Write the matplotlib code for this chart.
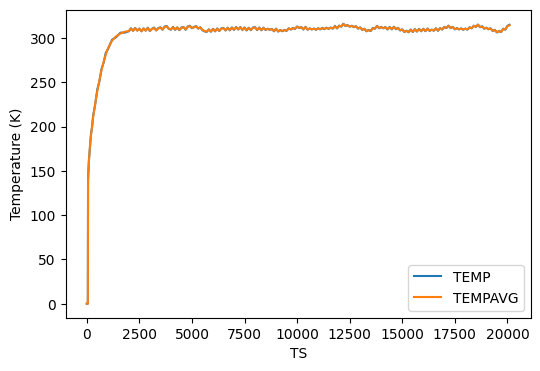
import numpy as np
import matplotlib
matplotlib.use("Agg")
import matplotlib.pyplot as plt

# Early ramp (irregular TS sampling)
TS_RAMP = [0, 50, 60, 100, 150, 200, 250, 300, 400, 500, 600, 700, 800, 900,
           1000, 1200, 1400, 1600, 1800]
TEMP_RAMP = [0, 0, 140, 162, 176, 192, 199, 212, 225, 242, 251, 265, 272, 283,
             287, 298, 301, 306, 306]
TEMPAVG_RAMP = [0, 0, 140, 160, 178, 190, 200, 210, 226, 240, 252, 264, 273, 281,
                288, 297, 302, 305, 307]

# Plateau, TS = 2000 .. 20100 every 100 (rows of 1000 TS)
TEMPAVG_PLATEAU = [
    307.8, 310.6, 308.1, 311.0, 308.3, 310.4, 307.7, 310.7, 308.4, 311.2,
    308.1, 310.2, 311.3, 308.6, 310.8, 311.7, 309.5, 312.5, 313.1, 310.5,
    309.8, 312.1, 309.6, 311.8, 309.2, 311.4, 312.2, 309.7, 312.6, 313.3,
    311.4, 312.0, 313.1, 310.9, 311.7, 309.1, 307.9, 307.2, 309.4, 307.4,
    310.0, 307.8, 310.3, 308.2, 310.5, 311.0, 308.8, 311.3, 309.0, 311.6,
    309.5, 312.0, 309.9, 311.9, 309.4, 311.5, 308.9, 311.2, 309.2, 311.4,
    311.8, 309.3, 311.5, 309.0, 311.3, 309.4, 310.1, 309.6, 309.9, 307.9,
    310.2, 307.6, 308.6, 308.0, 308.7, 308.4, 310.5, 309.9, 310.8, 310.6,
    312.6, 311.6, 311.9, 309.9, 312.2, 309.7, 310.5, 310.0, 310.3, 309.6,
    310.6, 310.1, 310.9, 310.4, 311.2, 310.7, 311.4, 310.9, 313.2, 311.1,
    313.6, 313.1, 315.7, 313.9, 314.1, 313.2, 313.4, 312.6, 312.9, 310.9,
    311.6, 309.5, 310.1, 307.9, 308.7, 308.2, 310.9, 310.8, 313.3, 311.4,
    312.0, 311.3, 311.9, 309.9, 312.1, 310.1, 312.4, 310.3, 311.1, 308.8,
    309.4, 307.1, 307.9, 306.8, 309.2, 307.1, 309.6, 307.6, 309.9, 307.9,
    310.1, 308.0, 310.3, 308.3, 309.1, 308.6, 310.6, 308.5, 310.8, 309.9,
    312.1, 311.6, 313.6, 311.5, 312.2, 310.1, 310.8, 310.0, 310.5, 309.7,
    310.3, 309.8, 311.7, 311.2, 313.5, 312.9, 314.8, 312.5, 312.8, 310.8,
    311.3, 310.2, 310.5, 308.3, 308.8, 306.6, 307.6, 307.1, 310.1, 309.8,
    313.3, 314.3,
]
TEMP_PLATEAU = [
    307.6, 311.0, 308.1, 311.3, 308.4, 310.7, 307.5, 310.8, 308.3, 311.6,
    307.9, 310.4, 311.8, 308.5, 311.2, 312.1, 309.3, 312.9, 313.5, 310.3,
    309.4, 312.5, 309.2, 312.0, 308.8, 311.9, 312.4, 309.3, 313.0, 313.8,
    311.0, 312.4, 313.5, 310.5, 312.1, 308.7, 307.5, 306.8, 309.8, 307.0,
    310.4, 307.4, 310.8, 307.8, 310.9, 311.3, 308.4, 311.7, 308.6, 312.0,
    309.1, 312.4, 309.5, 312.3, 309.0, 311.9, 308.5, 311.6, 308.8, 311.8,
    312.2, 308.9, 311.9, 308.6, 311.7, 309.0, 310.5, 309.2, 310.3, 307.5,
    310.6, 307.2, 309.0, 307.6, 309.1, 308.0, 310.9, 309.5, 311.2, 310.2,
    313.0, 311.2, 312.3, 309.5, 312.6, 309.3, 310.9, 309.6, 310.7, 309.2,
    311.0, 309.7, 311.3, 310.0, 311.6, 310.3, 311.8, 310.5, 313.6, 310.7,
    314.0, 312.7, 316.1, 313.5, 314.5, 312.8, 313.8, 312.2, 313.3, 310.5,
    312.0, 309.1, 310.5, 307.5, 309.1, 307.8, 311.3, 310.4, 313.7, 311.0,
    312.4, 310.9, 312.3, 309.5, 312.5, 309.7, 312.8, 309.9, 311.5, 308.4,
    309.8, 306.7, 308.3, 306.4, 309.6, 306.7, 310.0, 307.2, 310.3, 307.5,
    310.5, 307.6, 310.7, 307.9, 309.5, 308.2, 311.0, 308.1, 311.2, 309.5,
    312.5, 311.2, 314.0, 311.1, 312.6, 309.7, 311.2, 309.6, 310.9, 309.3,
    310.7, 309.4, 312.1, 310.8, 313.9, 312.5, 315.2, 312.1, 313.2, 310.4,
    311.7, 309.8, 310.9, 307.9, 309.2, 306.2, 308.0, 306.7, 310.5, 309.4,
    313.7, 314.9,
]
TS_PLATEAU = list(range(2000, 20101, 100))

ts = np.array(TS_RAMP + TS_PLATEAU)
temp = np.array(TEMP_RAMP + TEMP_PLATEAU)
tempavg = np.array(TEMPAVG_RAMP + TEMPAVG_PLATEAU)

fig, ax = plt.subplots(figsize=(6, 4), dpi=100)
ax.plot(ts, temp, color="#1f77b4", label="TEMP")
ax.plot(ts, tempavg, color="#ff7f0e", label="TEMPAVG")
ax.set_xlabel("TS")
ax.set_ylabel("Temperature (K)")
ax.legend(loc="lower right")
fig.savefig("out.png", dpi=100, bbox_inches="tight")
